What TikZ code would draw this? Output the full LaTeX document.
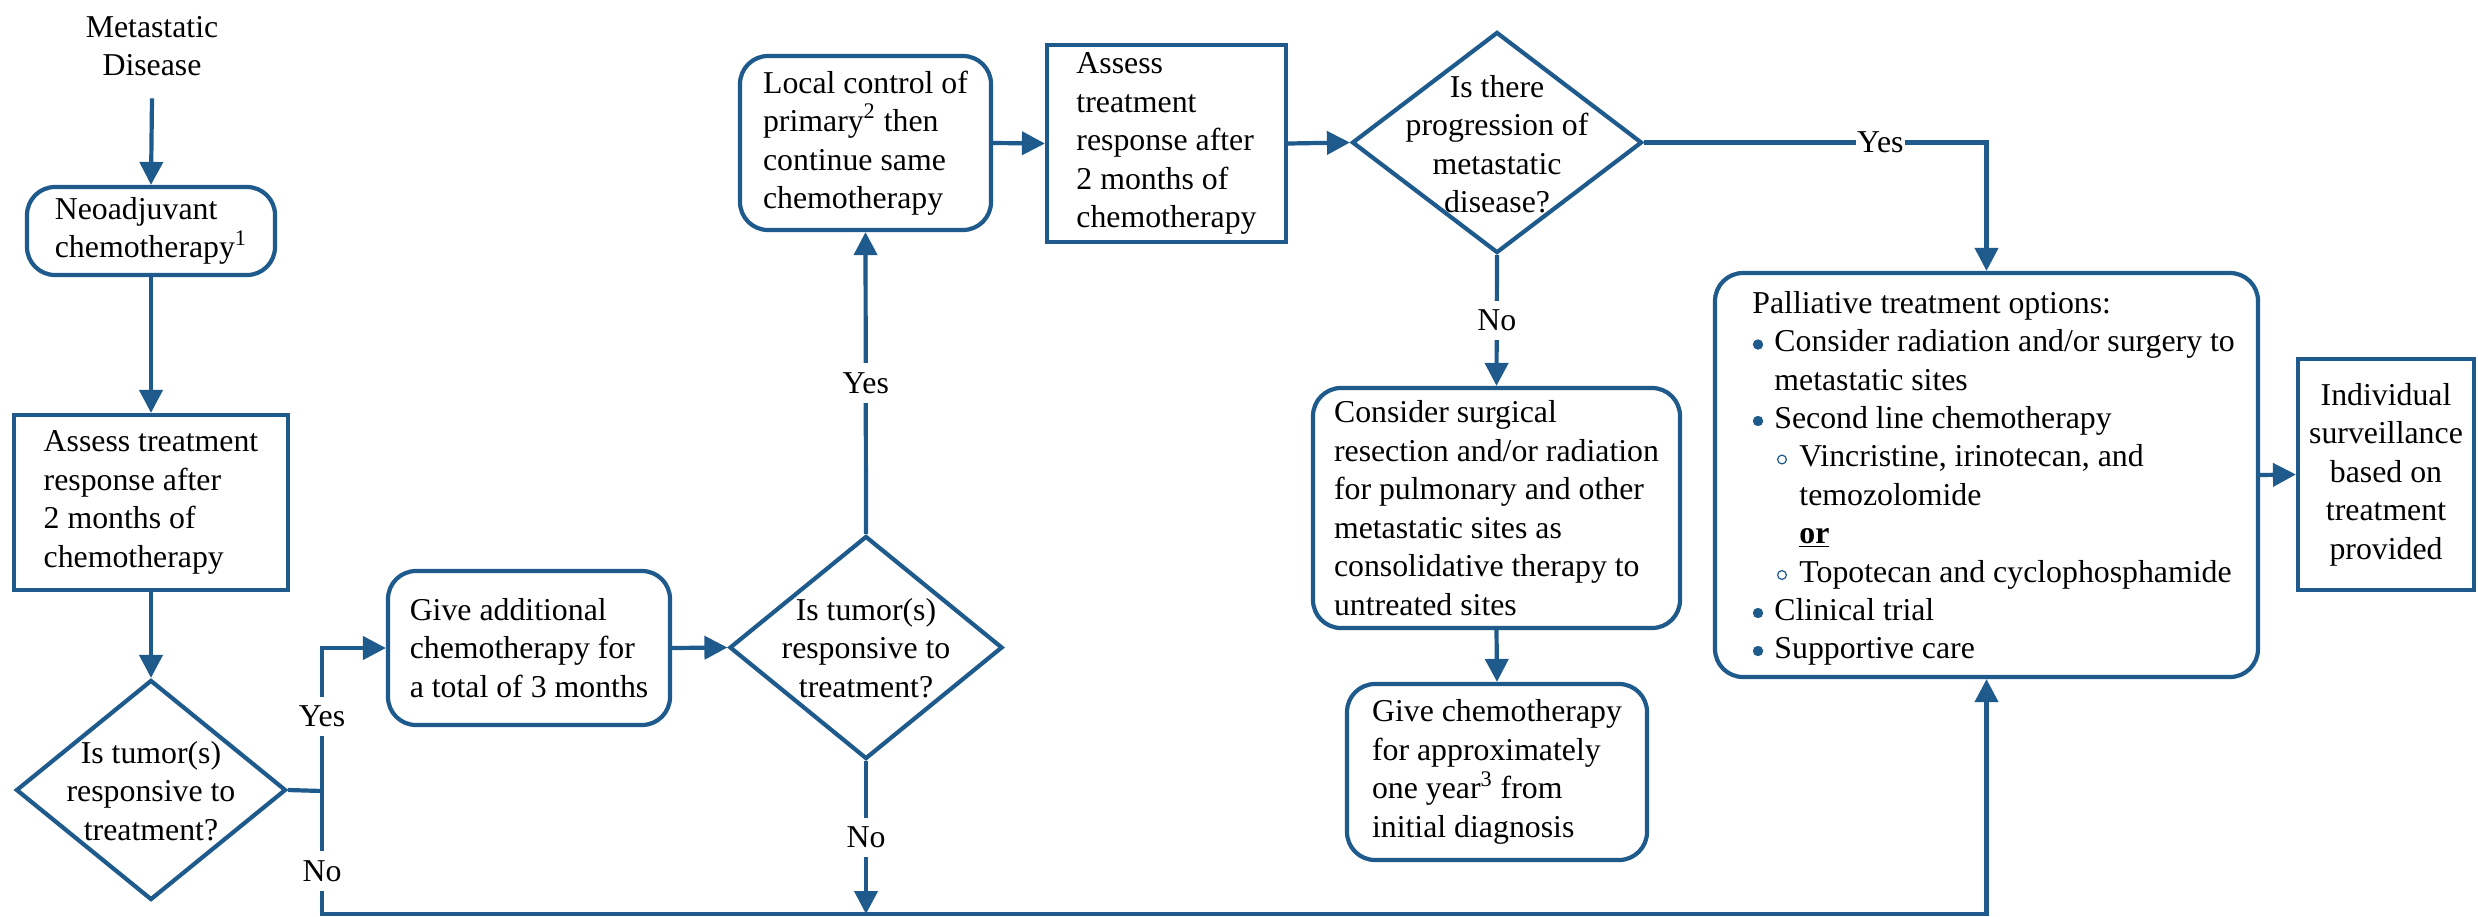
\documentclass[tikz,border=0pt]{standalone}
\usepackage{fontspec}
\setmainfont{Liberation Serif}
\usetikzlibrary{shapes.geometric,arrows.meta}
\definecolor{fc}{HTML}{1E5A8C}
\begin{document}
\begin{tikzpicture}[x=0.5pt,y=-0.5pt,
  every node/.style={font=\fontsize{15.9pt}{19.25pt}\selectfont, text=black},
  rbox/.style={draw=fc, line width=2.1pt, rounded corners=14pt, align=left, inner sep=0pt},
  sbox/.style={draw=fc, line width=2.1pt, align=left, inner sep=0pt},
  dia/.style={draw=fc, line width=2.1pt, diamond, inner sep=0pt},
  plain/.style={inner sep=0pt, align=center},
  conn/.style={draw=fc, line width=2.1pt},
  arr/.style={conn, -{Triangle[length=11.5pt,width=11.5pt]}},
  lbl/.style={fill=white, inner xsep=0.5pt, inner ysep=4.5pt},
  ptxt/.style={anchor=base west, inner sep=0pt},
  dotb/.style={circle, fill=fc, inner sep=0pt, minimum size=5.2pt},
  ringb/.style={circle, draw=fc, line width=0.6pt, inner sep=0pt, minimum size=4.4pt}
]
\path[use as bounding box, fill=white] (0,0) rectangle (2478,916);

% nodes
\node[plain, inner ysep=11pt] (start) at (152,46) {Metastatic\\Disease};
\node[rbox, minimum width=124pt, minimum height=44pt] (neo) at (151,231) {Neoadjuvant\\chemotherapy\textsuperscript{1}};
\node[sbox, minimum width=137pt, minimum height=87.5pt] (as1) at (151,502.5) {Assess treatment\\response after\\2 months of\\chemotherapy};
\node[dia, minimum width=135pt, minimum height=110pt] (d1) at (151,790) {};
\node[plain] (d1t) at (151,791) {Is tumor(s)\\responsive to\\treatment?};
\node[rbox, minimum width=141pt, minimum height=77pt] (give) at (529,648) {Give additional\\chemotherapy for\\a total of 3 months};
\node[dia, minimum width=136.5pt, minimum height=111.5pt] (d2) at (866,647.5) {};
\node[plain] (d2t) at (866,648) {Is tumor(s)\\responsive to\\treatment?};
\node[rbox, minimum width=125.5pt, minimum height=87pt] (local) at (865.5,143) {Local control of\\primary\textsuperscript{2} then\\continue same\\chemotherapy};
\node[sbox, minimum width=119.5pt, minimum height=98.5pt] (as2) at (1166.5,143.5) {Assess\\treatment\\response after\\2 months of\\chemotherapy};
\node[dia, minimum width=145pt, minimum height=110.5pt] (d3) at (1497,142.5) {};
\node[plain] (d3t) at (1497,144) {Is there\\progression of\\metastatic\\disease?};
\node[rbox, minimum width=183.5pt, minimum height=120pt] (cons) at (1496.5,508) {Consider surgical\\resection and/or radiation\\for pulmonary and other\\metastatic sites as\\consolidative therapy to\\untreated sites};
\node[rbox, minimum width=150pt, minimum height=88pt] (gc) at (1497,772) {Give chemotherapy\\for approximately\\one year\textsuperscript{3} from\\initial diagnosis};
\node[rbox, minimum width=271.5pt, minimum height=202pt] (pall) at (1986.5,475) {};
\node[sbox, align=center, minimum width=88pt, minimum height=115.5pt] (ind) at (2386,474.5) {Individual\\surveillance\\based on\\treatment\\provided};

% palliative content
\node[ptxt] (p0) at (1752,313) {Palliative treatment options:};
\node[ptxt] (p1) at (1774,351.5) {Consider radiation and/or surgery to};
\node[ptxt] (p2) at (1774,390) {metastatic sites};
\node[ptxt] (p3) at (1774,428) {Second line chemotherapy};
\node[ptxt] (p4) at (1799,466.5) {Vincristine, irinotecan, and};
\node[ptxt] (p5) at (1799,505) {temozolomide};
\node[ptxt] (p6) at (1799,543) {\underline{\textbf{or}}};
\node[ptxt] (p7) at (1799,582) {Topotecan and cyclophosphamide};
\node[ptxt] (p8) at (1774,620) {Clinical trial};
\node[ptxt] (p9) at (1774,658) {Supportive care};
\node[dotb] (b1) at (1758,344.5) {};
\node[dotb] (b2) at (1758,421) {};
\node[dotb] (b3) at (1758,613) {};
\node[dotb] (b4) at (1758,651) {};
\node[ringb] (s1) at (1782,459.5) {};
\node[ringb] (s2) at (1782,575) {};

% junction coordinates
\coordinate (j1) at (322,791);
\coordinate (bl) at (322,914);
\coordinate (dn2) at (866,914);

% connectors
\draw[arr] (start.south) -- (neo.north);
\draw[arr] (neo.south) -- (as1.north);
\draw[arr] (as1.south) -- (d1.north);
\draw[conn] (d1.east) -- (j1);
\draw[arr] (j1) |- node[lbl, pos=0.26] (yes1) {Yes} (give.west);
\draw[arr] (j1) -- node[lbl, pos=0.65] (no1) {No} (bl) -| (pall.south);
\draw[arr] (give.east) -- (d2.west);
\draw[arr] (d2.north) -- node[lbl] (yes2) {Yes} (local.south);
\draw[arr] (d2.south) -- node[lbl] (no2) {No} (dn2);
\draw[arr] (local.east) -- (as2.west);
\draw[arr] (as2.east) -- (d3.west);
\draw[arr] (d3.east) -| node[lbl, pos=0.345] (yes3) {Yes} (pall.north);
\draw[arr] (d3.south) -- node[lbl] (no3) {No} (cons.north);
\draw[arr] (cons.south) -- (gc.north);
\draw[arr] (pall.east) -- (ind.west);
\end{tikzpicture}
\end{document}
